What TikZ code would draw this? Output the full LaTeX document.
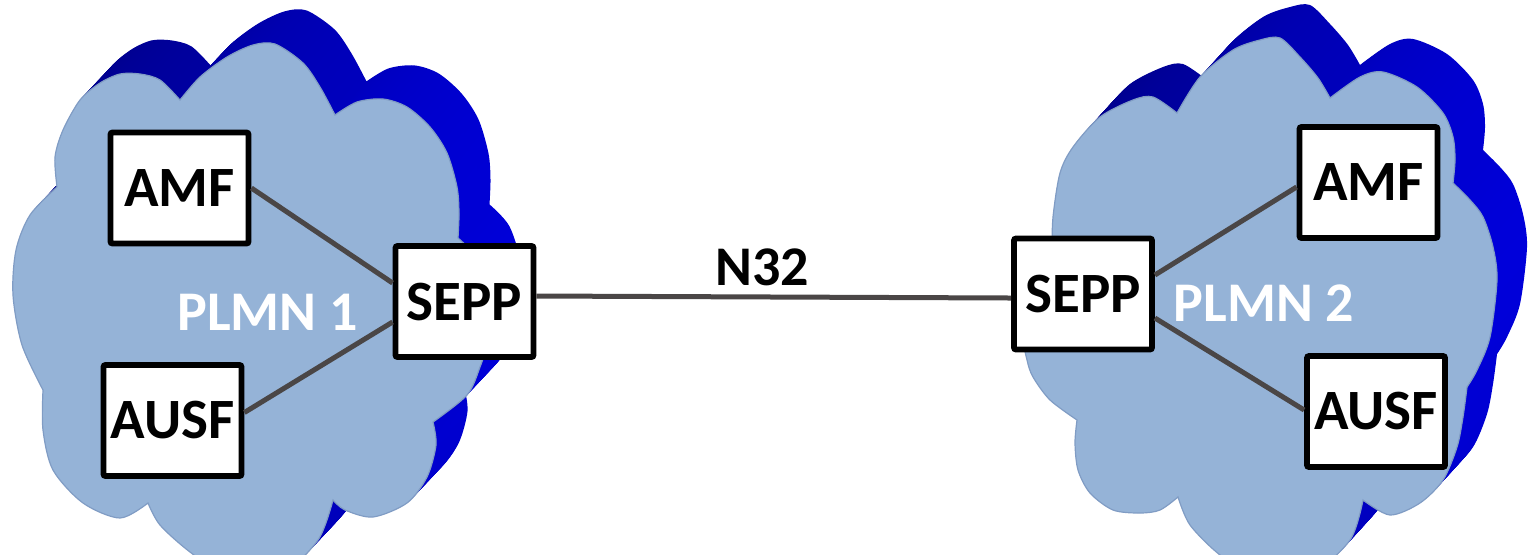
\documentclass[tikz,border=0pt]{standalone}
\usepackage{fontspec}
\setmainfont{Carlito}

\definecolor{cloudblue}{RGB}{149,179,215}
\definecolor{cloudedge}{RGB}{128,156,196}
\definecolor{deepblue}{RGB}{0,0,130}
\definecolor{brightblue}{RGB}{0,0,218}
\definecolor{linkgrey}{RGB}{74,70,70}

% Outline of the left cloud (pixel-like units, y pointing down)
\newcommand\cloudLeft[1]{\path[#1]
 plot[smooth] coordinates {(57,187) (55,157) (63,130) (80,100) (100,83) (120,74) (140,74) (160,80) (180,100)}
 -- plot[smooth] coordinates {(180,100) (200,77) (227,57) (253,45) (275,44) (303,63) (320,87) (335,115)}
 -- plot[smooth] coordinates {(335,115) (357,102) (383,99) (407,107) (430,127) (447,153) (457,187) (459,213) (458,238)}
 -- plot[smooth] coordinates {(458,238) (478,260) (490,300) (488,340) (480,367) (467,395) (433,422)}
 -- plot[smooth] coordinates {(433,422) (436,445) (427,477) (407,503) (373,517) (345,510) (333,500)}
 -- plot[smooth] coordinates {(333,500) (318,540) (280,575) (230,578) (190,552) (160,525) (148,503)}
 -- plot[smooth] coordinates {(148,503) (120,518) (83,503) (53,470) (43,430) (43,390)}
 -- plot[smooth] coordinates {(43,390) (22,345) (13,295) (16,250) (30,215) (57,187)}
 -- cycle;}

% Outline of the right cloud
\newcommand\cloudRight[1]{\path[#1]
 plot[smooth] coordinates {(1052,250) (1053,217) (1060,173) (1073,147) (1100,117) (1133,100) (1153,97) (1177,113)}
 -- plot[smooth] coordinates {(1177,113) (1200,77) (1233,50) (1260,40) (1280,38) (1300,57) (1318,78) (1330,98)}
 -- plot[smooth] coordinates {(1330,98) (1360,77) (1383,72) (1417,87) (1443,113) (1453,137) (1455,160) (1453,183)}
 -- plot[smooth] coordinates {(1453,183) (1470,200) (1483,217) (1493,247) (1497,280) (1490,337) (1477,370) (1467,387)}
 -- plot[smooth] coordinates {(1467,387) (1463,417) (1457,447) (1443,480) (1420,503) (1390,515) (1363,500)}
 -- plot[smooth] coordinates {(1363,500) (1350,540) (1310,575) (1260,580) (1220,555) (1190,525) (1178,497)}
 -- plot[smooth] coordinates {(1178,497) (1160,510) (1140,513) (1113,510) (1090,493) (1078,470) (1075,443) (1077,420)}
 -- plot[smooth] coordinates {(1077,420) (1050,400) (1033,377) (1027,360) (1022,330) (1030,290) (1052,250)}
 -- cycle;}

\tikzset{
  nf/.style={draw=black, line width=2.9pt, fill=white, minimum width=69pt,
    minimum height=55.5pt, inner sep=0pt, rounded corners=1pt,
    font=\fontsize{28.5}{33}\selectfont\bfseries},
  lbl/.style={inner sep=0pt, anchor=base, font=\fontsize{28}{33}\selectfont\bfseries},
  link/.style={draw=linkgrey, line width=2.5pt},
  extrude/.style={shade, left color=deepblue, right color=brightblue},
  face/.style={fill=cloudblue, draw=cloudedge, line width=0.6pt}
}

\begin{document}
\begin{tikzpicture}[x=0.5pt, y=-0.5pt]
\useasboundingbox (0,0) rectangle (1530,554);
\begin{scope}
\clip (0,0) rectangle (1530,554);
% 3D depth of the clouds
\foreach \k in {30,29,...,1} {
  \cloudLeft{extrude, shift={({\k*1.05},{-\k*1.12})}}
  \cloudRight{extrude, shift={({\k*1.0},{-\k*1.1})}}
}
% front faces
\cloudLeft{face}
\cloudRight{face}
\end{scope}

% network functions
\node[nf] (amfA)  at (179.5,188)   {AMF};
\node[nf] (ausfA) at (172.5,420.5) {AUSF};
\node[nf] (seppA) at (464.5,301.5) {SEPP};
\node[nf] (seppB) at (1083,294)    {SEPP};
\node[nf] (amfB)  at (1368.5,182.5) {AMF};
\node[nf] (ausfB) at (1376,411.5)  {AUSF};

% labels
\node[lbl, text=white] (plmnA) at (267.5,330) {PLMN 1};
\node[lbl, text=white] (plmnB) at (1264,321)  {PLMN 2};
\node[lbl] (n32) at (762,285) {N32};

% interfaces
\draw[link] (amfA.east) -- ([yshift=9.25pt]seppA.west);
\draw[link] ([yshift=4pt]ausfA.east) -- ([yshift=-10.25pt]seppA.west);
\draw[link] ([yshift=2.75pt]seppA.east) -- ([yshift=-2pt]seppB.west);
\draw[link] ([yshift=9.5pt]seppB.east) -- ([yshift=-2.25pt]amfB.west);
\draw[link] ([yshift=-12pt]seppB.east) -- ([yshift=0.75pt]ausfB.west);
\end{tikzpicture}
\end{document}
